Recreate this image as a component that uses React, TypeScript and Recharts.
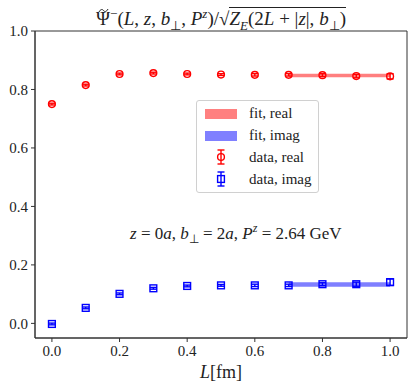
import React from 'react';
import { ScatterChart, Scatter, XAxis, YAxis, ErrorBar, ReferenceArea } from 'recharts';

const L = [0, 0.1, 0.2, 0.3, 0.4, 0.5, 0.6, 0.7, 0.8, 0.9, 1.0];
const realVals = [0.75, 0.815, 0.853, 0.856, 0.853, 0.851, 0.85, 0.85, 0.849, 0.846, 0.845];
const realErr = [0.003, 0.003, 0.003, 0.003, 0.003, 0.003, 0.004, 0.004, 0.005, 0.006, 0.009];
const imagVals = [-0.002, 0.053, 0.101, 0.12, 0.128, 0.13, 0.13, 0.13, 0.134, 0.134, 0.141];
const imagErr = [0.003, 0.003, 0.003, 0.003, 0.003, 0.003, 0.004, 0.004, 0.005, 0.007, 0.011];
const fitRange = [0.7, 1.0];
const fitReal = { center: 0.848, err: 0.006 };
const fitImag = { center: 0.133, err: 0.008 };
const xTicks = [0, 0.2, 0.4, 0.6, 0.8, 1.0];
const yTicks = [0, 0.2, 0.4, 0.6, 0.8, 1.0];
const xDomain = [-0.05, 1.05];
const yDomain = [-0.05, 1.0];

const realData = L.map((x, i) => ({ x, y: realVals[i], err: realErr[i] }));
const imagData = L.map((x, i) => ({ x, y: imagVals[i], err: imagErr[i] }));

const FONT = '"Liberation Serif", "Times New Roman", serif';
const RED = '#ff0000';
const BLUE = '#0000ff';

const CircleShape = (props: any) => (
  <circle cx={props.cx} cy={props.cy} r={3.4} fill="none" stroke={RED} strokeWidth={1.4} />
);
const SquareShape = (props: any) => (
  <rect x={props.cx - 3.4} y={props.cy - 3.4} width={6.8} height={6.8} fill="none" stroke={BLUE} strokeWidth={1.4} />
);

const LegendBox = () => {
  const row = (icon: React.ReactNode, label: string) => (
    <div style={{ display: 'flex', alignItems: 'center', height: 22 }}>
      <svg width={40} height={22} style={{ flex: 'none' }}>{icon}</svg>
      <span style={{ marginLeft: 8 }}>{label}</span>
    </div>
  );
  const errIcon = (color: string, square: boolean) => (
    <g stroke={color} strokeWidth={1.4} fill="none">
      <line x1={20} y1={4} x2={20} y2={18} />
      <line x1={16.5} y1={4} x2={23.5} y2={4} />
      <line x1={16.5} y1={18} x2={23.5} y2={18} />
      {square ? <rect x={16.6} y={7.6} width={6.8} height={6.8} /> : <circle cx={20} cy={11} r={3.4} />}
    </g>
  );
  return (
    <div style={{
      position: 'absolute', left: 196, top: 100,
      fontFamily: FONT, fontSize: 15, color: '#222', background: 'rgba(255,255,255,0.8)',
      border: '1px solid #d0d0d0', borderRadius: 3, padding: '1px 7px 2px 4px', width: 'max-content'
    }}>
      {row(<rect x={4} y={7} width={32} height={10} fill="#ff8080" />, 'fit, real')}
      {row(<rect x={4} y={7} width={32} height={10} fill="#8080ff" />, 'fit, imag')}
      {row(errIcon(RED, false), 'data, real')}
      {row(errIcon(BLUE, true), 'data, imag')}
    </div>
  );
};

const tickStyle = { fontFamily: FONT, fontSize: 15, fill: '#222' };
const I = ({ children }: { children: React.ReactNode }) => <i>{children}</i>;
const SS = { fontSize: 13 };

export default function App() {
  return (
    <div style={{ position: 'absolute', left: 0, top: 0, width: 415, height: 391, background: '#fff' }}>
      <ScatterChart width={415} height={391} margin={{ top: 31, right: 8, bottom: 23, left: 0 }}>
        <XAxis
          dataKey="x" type="number" domain={xDomain} ticks={xTicks} height={30}
          tickSize={4} tickMargin={3} stroke="#333" tick={tickStyle}
          tickFormatter={(v: number) => v.toFixed(1)} allowDataOverflow
        />
        <YAxis
          dataKey="y" type="number" domain={yDomain} ticks={yTicks} width={35}
          tickSize={4} tickMargin={3} stroke="#333" tick={tickStyle}
          tickFormatter={(v: number) => v.toFixed(1)} allowDataOverflow
        />
        <ReferenceArea x1={xDomain[0]} x2={xDomain[1]} y1={yDomain[0]} y2={yDomain[1]} fill="none" stroke="#333" strokeWidth={1} ifOverflow="visible" />
        <ReferenceArea x1={fitRange[0]} x2={fitRange[1]} y1={fitReal.center - fitReal.err} y2={fitReal.center + fitReal.err} fill={RED} fillOpacity={0.5} stroke="none" />
        <ReferenceArea x1={fitRange[0]} x2={fitRange[1]} y1={fitImag.center - fitImag.err} y2={fitImag.center + fitImag.err} fill={BLUE} fillOpacity={0.5} stroke="none" />
        <Scatter data={realData} shape={CircleShape} isAnimationActive={false}>
          <ErrorBar dataKey="err" direction="y" width={3.5} stroke={RED} strokeWidth={1.4} />
        </Scatter>
        <Scatter data={imagData} shape={SquareShape} isAnimationActive={false}>
          <ErrorBar dataKey="err" direction="y" width={3.5} stroke={BLUE} strokeWidth={1.4} />
        </Scatter>
      </ScatterChart>
      <LegendBox />
      <div style={{ position: 'absolute', left: 35, width: 372, top: 3, lineHeight: '22px', textAlign: 'center', fontFamily: FONT, fontSize: 19, color: '#222', whiteSpace: 'nowrap' }}>
        <span>
          <span style={{ position: 'relative', display: 'inline-block' }}>
            Ψ
            <svg width={11} height={5} style={{ position: 'absolute', left: '50%', marginLeft: -5.5, top: 0 }}>
              <path d="M1,4 C2.5,1 4.5,1 5.5,2.5 S8.5,4 10,1" fill="none" stroke="#222" strokeWidth={1} />
            </svg>
          </span>
          <sup style={SS}>−</sup>(<I>L</I>, <I>z</I>, <I>b</I><sub style={SS}>⊥</sub>, <I>P</I><sup style={SS}><I>z</I></sup>)/√<span style={{ borderTop: '1px solid #222' }}><I>Z</I><sub style={SS}><I>E</I></sub>(2<I>L</I> + |<I>z</I>|, <I>b</I><sub style={SS}>⊥</sub>)</span>
        </span>
      </div>
      <div style={{ position: 'absolute', left: 130, top: 221, fontFamily: FONT, fontSize: 17, color: '#222', whiteSpace: 'nowrap' }}>
        <I>z</I> = 0<I>a</I>, <I>b</I><sub style={{ fontSize: 12 }}>⊥</sub> = 2<I>a</I>, <I>P</I><sup style={{ fontSize: 12 }}><I>z</I></sup> = 2.64 GeV
      </div>
      <div style={{ position: 'absolute', left: 35, width: 372, top: 362, textAlign: 'center', fontFamily: FONT, fontSize: 18, color: '#222' }}>
        <I>L</I>[fm]
      </div>
    </div>
  );
}
